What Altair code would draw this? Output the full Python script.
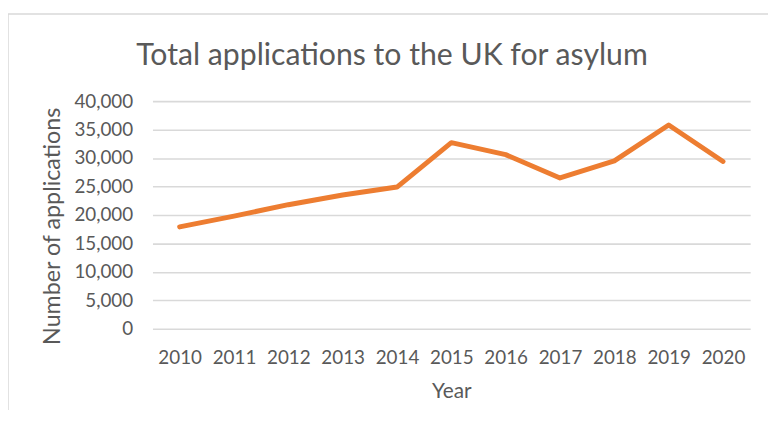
import altair as alt
import pandas as pd

years = ["2010", "2011", "2012", "2013", "2014", "2015", "2016", "2017", "2018", "2019", "2020"]
applications = [17900, 19800, 21800, 23500, 24900, 32700, 30600, 26500, 29500, 35800, 29400]
y_ticks = [0, 5000, 10000, 15000, 20000, 25000, 30000, 35000, 40000]

title_text = "Total applications to the UK for asylum"
x_title = "Year"
y_title = "Number of applications"

df = pd.DataFrame({"Year": years, "Applications": applications})

FONT = "Lato"
TEXT = "#595959"
GRID = "#D9D9D9"

base = alt.Chart(df)

line = base.mark_line(
    color="#ED7D31", strokeWidth=5, strokeCap="round", strokeJoin="round"
).encode(
    x=alt.X(
        "Year:O",
        sort=years,
        scale=alt.Scale(type="point", padding=0.5),
        axis=alt.Axis(
            title=x_title,
            labelAngle=0,
            labelFont=FONT,
            labelFontSize=19,
            labelColor=TEXT,
            labelPadding=20,
            ticks=False,
            tickSize=0,
            domain=False,
            grid=False,
            titleFont=FONT,
            titleFontSize=21,
            titleFontWeight="normal",
            titleColor=TEXT,
            titleY=63,
            titleBaseline="middle",
        ),
    ),
    y=alt.Y(
        "Applications:Q",
        scale=alt.Scale(domain=[0, 40000], nice=False),
        axis=alt.Axis(
            title=y_title,
            values=y_ticks,
            format=",.0f",
            labelFont=FONT,
            labelFontSize=19,
            labelColor=TEXT,
            labelPadding=20,
            ticks=False,
            tickSize=0,
            domain=False,
            grid=True,
            gridColor=GRID,
            gridWidth=1.6,
            titleFont=FONT,
            titleFontSize=23.5,
            titleFontWeight="normal",
            titleColor=TEXT,
            titleAngle=270,
            titleX=-101,
            titleY=126,
            titleBaseline="middle",
            titleAlign="center",
        ),
    ),
)

border = alt.Chart(pd.DataFrame({"a": [0]})).mark_rect(
    filled=False, stroke=GRID, strokeWidth=1.5, clip=False
).encode(
    x=alt.value(-146), x2=alt.value(660), y=alt.value(-88), y2=alt.value(340)
)

title = alt.Chart(pd.DataFrame({"t": [title_text]})).mark_text(
    font=FONT, fontSize=30.5, color=TEXT, align="center", baseline="alphabetic"
).encode(
    x=alt.value(242), y=alt.value(-37), text="t:N"
)

chart = alt.layer(border, line, title).properties(
    width=604,
    height=230,
    autosize=alt.AutoSizeParams(type="none"),
    padding={"left": 146, "top": 92, "right": 18, "bottom": 80},
).configure_view(stroke=None)

chart.save("out.html", embed_options={"renderer": "svg", "actions": False})
